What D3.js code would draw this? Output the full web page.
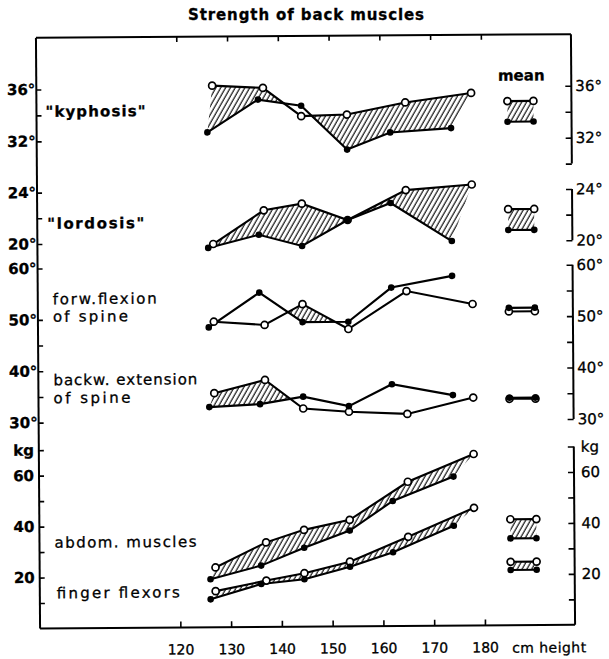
<!DOCTYPE html>
<html>
<head>
<meta charset="utf-8">
<script src="https://cdn.jsdelivr.net/npm/d3@7"></script>
<style>
  body { margin: 0; background: #fff; }
  text { font-family: "DejaVu Sans", sans-serif; fill: #000; stroke: #000; stroke-width: 0.3px; }
</style>
</head>
<body>
<script>
// body heights (cm) of the groups: open circles and filled dots
const heightOpen = [127, 137, 144.5, 153.5, 165, 178];
const heightFilled = [126, 136, 144.5, 153.5, 162, 174];

// values
const kyphosisOpen = [36.2, 36.0, 33.8, 33.9, 34.8, 35.5];
const kyphosisFilled = [32.6, 35.1, 34.6, 31.2, 32.5, 32.8];
const lordosisOpen = [19.9, 22.5, 23.0, 21.7, 24.0, 24.4];
const lordosisFilled = [19.6, 20.6, 19.7, 21.7, 23.0, 20.0];
const flexionOpen = [49.4, 48.7, 52.7, 47.8, 55.1, 52.5];
const flexionFilled = [48.3, 55.0, 49.2, 49.2, 55.8, 58.0];
const extensionOpen = [35.5, 38.0, 32.4, 31.7, 31.2, 34.3];
const extensionFilled = [32.8, 33.3, 34.7, 32.8, 37.0, 34.8];
const abdomOpen = [23.5, 33.2, 38.0, 41.8, 56.6, 67.3];
const abdomFilled = [18.9, 24.1, 31.0, 37.6, 49.1, 58.5];
const fingerOpen = [14.2, 18.2, 21.0, 25.4, 35.0, 46.2];
const fingerFilled = [11.0, 16.9, 18.6, 23.4, 29.0, 39.2];

// "mean" markers, same order as the series above
const meanOpen = [34.85, 22.46, 51.0, 34.0, 41.6, 24.9];
const meanFilled = [33.26, 20.83, 51.7, 34.2, 34.1, 21.7];

// ticks
const xTicks = [120, 130, 140, 150, 160, 170, 180];
const kyphLeftTicks = [36, 34, 32];
const kyphRightTicks = [36, 34, 32, 30];
const kyphLabels = [36, 32];
const lordTicks = [24, 22, 20];
const lordLabels = [24, 20];
const flexLeftTicks = [60, 50, 45, 40, 35, 30];
const flexRightTicks = [60, 55, 50, 45, 40, 35, 30];
const flexLabels = [60, 50, 40, 30];
const kgTicks = [70, 60, 50, 40, 30, 20, 10];
const kgLabels = [60, 40, 20];

const width = 609;
const height = 659;

const svg = d3.select("body")
    .append("svg")
    .attr("width", width)
    .attr("height", height);

// title
svg.append("text")
    .attr("x", 306)
    .attr("y", 20)
    .attr("text-anchor", "middle")
    .attr("font-size", 15)
    .attr("font-weight", "bold")
    .attr("textLength", 236)
    .attr("lengthAdjust", "spacing")
    .text("Strength of back muscles");

// the scan is tilted a little
const g = svg.append("g").attr("transform", "rotate(-0.4,305,330)");

const axLeft = 38, axRight = 573, axTop = 36, axBottom = 626.7;

const x = d3.scaleLinear().domain([120, 180]).range([178.3, 482.9]);
const yKyph = d3.scaleLinear().domain([32, 36]).range([139.5, 87.6]);
const yLord = d3.scaleLinear().domain([20, 24]).range([242.1, 190.8]);
const yFlex = d3.scaleLinear().domain([30, 60]).range([420.8, 266.6]);
const yKg = d3.scaleLinear().domain([0, 60]).range([axBottom, 473.8]);

// hatch
const defs = svg.append("defs");
defs.append("pattern")
    .attr("id", "hatch")
    .attr("patternUnits", "userSpaceOnUse")
    .attr("width", 4.2)
    .attr("height", 10)
    .attr("patternTransform", "rotate(30)")
    .append("line")
    .attr("x1", 1).attr("y1", 0)
    .attr("x2", 1).attr("y2", 10)
    .attr("stroke", "#000")
    .attr("stroke-width", 1.1);

const series = [
    { open: kyphosisOpen, filled: kyphosisFilled, y: yKyph },
    { open: lordosisOpen, filled: lordosisFilled, y: yLord },
    { open: flexionOpen, filled: flexionFilled, y: yFlex },
    { open: extensionOpen, filled: extensionFilled, y: yFlex },
    { open: abdomOpen, filled: abdomFilled, y: yKg },
    { open: fingerOpen, filled: fingerFilled, y: yKg }
];

const legX1 = 509, legX2 = 535;

series.forEach(function (s, i) {
    const ptsOpen = heightOpen.map(function (h, j) { return [x(h), s.y(s.open[j])]; });
    const ptsFilled = heightFilled.map(function (h, j) { return [x(h), s.y(s.filled[j])]; });

    // hatch only where the open curve lies above the filled one
    const first = ptsOpen[0], last = ptsOpen[ptsOpen.length - 1];
    const clipPts = [[first[0] - 30, first[1]]].concat(ptsOpen,
        [[last[0] + 30, last[1]], [last[0] + 30, 2000], [first[0] - 30, 2000]]);
    defs.append("clipPath")
        .attr("id", "clip" + i)
        .append("path")
        .attr("d", "M" + clipPts.join("L") + "Z");

    g.append("path")
        .attr("d", "M" + ptsOpen.concat(ptsFilled.slice().reverse()).join("L") + "Z")
        .attr("fill", "url(#hatch)")
        .attr("clip-path", "url(#clip" + i + ")");

    const line = d3.line();
    g.append("path").attr("d", line(ptsOpen))
        .attr("fill", "none").attr("stroke", "#000").attr("stroke-width", 2.1);
    g.append("path").attr("d", line(ptsFilled))
        .attr("fill", "none").attr("stroke", "#000").attr("stroke-width", 2.1);

    g.selectAll(null).data(ptsOpen).enter().append("circle")
        .attr("cx", function (d) { return d[0]; })
        .attr("cy", function (d) { return d[1]; })
        .attr("r", 3.5)
        .attr("fill", "#fff").attr("stroke", "#000").attr("stroke-width", 1.7);
    g.selectAll(null).data(ptsFilled).enter().append("circle")
        .attr("cx", function (d) { return d[0]; })
        .attr("cy", function (d) { return d[1]; })
        .attr("r", 3.3)
        .attr("fill", "#000");

    // mean marker
    const yo = s.y(meanOpen[i]), yf = s.y(meanFilled[i]);
    if (yo < yf) {
        g.append("rect")
            .attr("x", legX1).attr("y", yo)
            .attr("width", legX2 - legX1).attr("height", yf - yo)
            .attr("fill", "url(#hatch)");
    }
    [yo, yf].forEach(function (yy) {
        g.append("line")
            .attr("x1", legX1).attr("x2", legX2)
            .attr("y1", yy).attr("y2", yy)
            .attr("stroke", "#000").attr("stroke-width", 2.1);
    });
    [legX1, legX2].forEach(function (xx) {
        g.append("circle").attr("cx", xx).attr("cy", yo).attr("r", 3.5)
            .attr("fill", "#fff").attr("stroke", "#000").attr("stroke-width", 1.7);
        g.append("circle").attr("cx", xx).attr("cy", yf).attr("r", 3.3)
            .attr("fill", "#000");
    });
});

g.append("text")
    .attr("x", 523).attr("y", 82)
    .attr("text-anchor", "middle")
    .attr("font-size", 15)
    .attr("font-weight", "bold")
    .text("mean");

// frame
const frame = g.append("g").attr("fill", "none").attr("stroke", "#000").attr("stroke-width", 2);
frame.append("path").attr("d", `M${axLeft},${axTop}V${axBottom}`);
frame.append("path").attr("d", `M${axLeft},${axTop}H${axRight}`);
frame.append("path").attr("d", `M${axLeft},${axBottom}H${axRight}`);
frame.append("path").attr("d", `M${axRight},${axTop}V${yKyph(30)}`);
frame.append("path").attr("d", `M${axRight},${yLord(24)}V${yLord(20)}`);
frame.append("path").attr("d", `M${axRight},${yFlex(60)}V${yFlex(30)}`);
frame.append("path").attr("d", `M${axRight},${yKg(70)}V${axBottom}`);

function degFmt(labels) {
    return function (d) { return labels.includes(d) ? d + "°" : ""; };
}
function kgFmt(d) {
    if (d === 70) return "kg";
    return kgLabels.includes(d) ? d : "";
}

function styleAxis(ax, size, weight) {
    ax.select(".domain").remove();
    ax.attr("font-family", "DejaVu Sans, sans-serif")
        .attr("font-size", size)
        .attr("font-weight", weight);
    ax.selectAll("line").attr("stroke-width", 1.6);
    ax.selectAll("text").attr("fill", "#000");
}

function leftAxis(scale, ticks, fmt, pad) {
    const ax = g.append("g")
        .attr("transform", `translate(${axLeft},0)`)
        .call(d3.axisLeft(scale).tickValues(ticks).tickSize(-5).tickPadding(pad).tickFormat(fmt));
    styleAxis(ax, 15, "bold");
}

function rightAxis(scale, ticks, fmt, pad) {
    const ax = g.append("g")
        .attr("transform", `translate(${axRight},0)`)
        .call(d3.axisRight(scale).tickValues(ticks).tickSize(-6).tickPadding(pad).tickFormat(fmt));
    styleAxis(ax, 15, "normal");
}

leftAxis(yKyph, kyphLeftTicks, degFmt(kyphLabels), 1);
leftAxis(yLord, lordTicks, degFmt(lordLabels), 1);
leftAxis(yFlex, flexLeftTicks, degFmt(flexLabels), 1);
leftAxis(yKg, kgTicks, kgFmt, 5);

rightAxis(yKyph, kyphRightTicks, degFmt(kyphLabels), 4);
rightAxis(yLord, lordTicks, degFmt(lordLabels), 4);
rightAxis(yFlex, flexRightTicks, degFmt(flexLabels), 4);
rightAxis(yKg, kgTicks, kgFmt, 7);

// x ticks on top and bottom
const topAx = g.append("g")
    .attr("transform", `translate(0,${axTop})`)
    .call(d3.axisTop(x).tickValues(xTicks).tickSize(-5).tickFormat(""));
styleAxis(topAx, 14, "normal");

const botAx = g.append("g")
    .attr("transform", `translate(0,${axBottom})`)
    .call(d3.axisBottom(x).tickValues(xTicks).tickSize(-6).tickPadding(17).tickFormat(d3.format("d")));
styleAxis(botAx, 14, "normal");

g.append("text")
    .attr("x", x(180) + 27).attr("y", axBottom + 27.5)
    .attr("font-size", 14)
    .attr("textLength", 74).attr("lengthAdjust", "spacing")
    .text("cm height");

// panel names
const names = [
    { t: "\"kyphosis\"", x: 47, y: 115, w: 100, b: "bold" },
    { t: "\"lordosis\"", x: 48, y: 227, w: 97, b: "bold" },
    { t: "forw.flexion", x: 53, y: 302.5, w: 104, b: "normal" },
    { t: "of  spine", x: 53, y: 320, w: 75, b: "normal" },
    { t: "backw. extension", x: 53, y: 383.5, w: 144, b: "normal" },
    { t: "of  spine", x: 53, y: 401.5, w: 77, b: "normal" },
    { t: "abdom. muscles", x: 53, y: 546, w: 142, b: "normal" },
    { t: "finger  flexors", x: 55, y: 596.5, w: 123, b: "normal" }
];
g.selectAll(".name").data(names).enter().append("text")
    .attr("class", "name")
    .attr("x", function (d) { return d.x; })
    .attr("y", function (d) { return d.y; })
    .attr("font-size", 15)
    .attr("font-weight", function (d) { return d.b; })
    .attr("textLength", function (d) { return d.w; })
    .attr("lengthAdjust", "spacing")
    .text(function (d) { return d.t; });
</script>
</body>
</html>
